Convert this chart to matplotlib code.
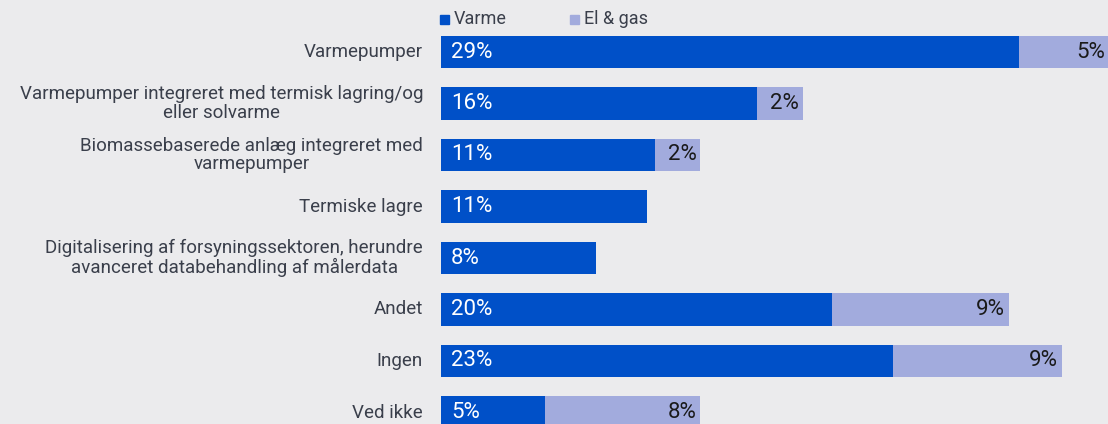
import matplotlib.pyplot as plt
from matplotlib.patches import Rectangle

categories = [
    "Varmepumper",
    "Varmepumper integreret med termisk lagring/og\neller solvarme",
    "Biomassebaserede anlæg integreret med\nvarmepumper",
    "Termiske lagre",
    "Digitalisering af forsyningssektoren, herundre\navanceret databehandling af målerdata",
    "Andet",
    "Ingen",
    "Ved ikke",
]
varme = [29.4, 16.1, 10.9, 10.5, 7.9, 19.9, 23.0, 5.3]
el_gas = [4.6, 2.3, 2.3, 0, 0, 9.0, 8.6, 7.9]
series_names = ["Varme", "El & gas"]

BG = "#ebebed"
BLUE = "#0050c8"
LIGHT = "#a2abdd"
TXT = "#3a3f4b"

plt.rcParams['font.family'] = ['Roboto', 'DejaVu Sans']

W, H = 1108, 424
fig = plt.figure(figsize=(W / 100, H / 100), dpi=100)
fig.patch.set_facecolor(BG)

ax = fig.add_axes([441 / W, 0, (W - 441) / W, 1])
ax.set_facecolor(BG)

y = list(range(len(categories)))
ax.barh(y, varme, height=0.64, color=BLUE)
ax.barh(y, el_gas, left=varme, height=0.64, color=LIGHT)

px_per = 19.65
ax.set_xlim(0, (W - 441) / px_per)
ax.set_ylim(7 + (424 - 412.5) / 51.5, -52 / 51.5)
ax.axis('off')

for i, (v, e) in enumerate(zip(varme, el_gas)):
    ax.text(0.5, i, f"{int(v + 0.5)}%", color="white", fontsize=16,
            va='center', ha='left')
    if e > 0:
        ax.text(v + e - 0.2, i, f"{int(e + 0.5)}%", color="#1a1a1a",
                fontsize=16, va='center', ha='right')
    # category labels
    ypix = 52 + 51.5 * i
    fig.text(423 / W, 1 - ypix / H, categories[i], ha='right', va='center',
             multialignment='center', fontsize=13.5, color=TXT,
             linespacing=1.05)

# legend
for x0, name, col in [(440, series_names[0], BLUE), (570, series_names[1], LIGHT)]:
    fig.patches.append(Rectangle((x0 / W, 1 - 24 / H), 9 / W, 9 / H,
                                 transform=fig.transFigure, color=col))
    fig.text((x0 + 14) / W, 1 - 19.5 / H, name, ha='left', va='center',
             fontsize=13, color=TXT)

fig.savefig("out.png", dpi=100, facecolor=BG)
